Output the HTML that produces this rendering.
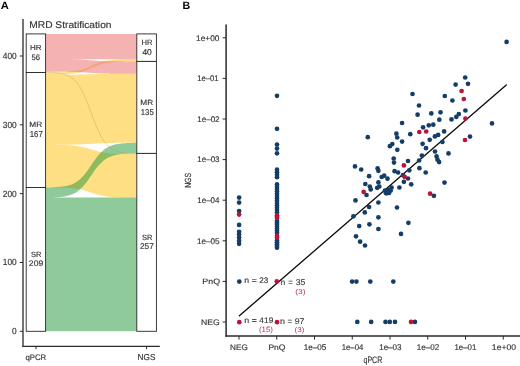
<!DOCTYPE html>
<html><head><meta charset="utf-8"><style>
html,body{margin:0;padding:0;background:#fff;}
body{width:520px;height:366px;overflow:hidden;}
svg{display:block;will-change:transform;}
text{font-family:"Liberation Sans", sans-serif;font-kerning:none;text-rendering:geometricPrecision;}
</style></head><body>
<svg width="520" height="366" viewBox="0 0 520 366">
<rect width="520" height="366" fill="#fff"/>
<path d="M45.60,74.80 L47.50,74.80 L49.40,74.80 L51.30,74.80 L53.20,74.80 L55.10,74.79 L57.00,74.79 L58.90,74.79 L60.80,74.78 L62.70,74.78 L64.60,74.77 L66.50,74.76 L68.40,74.75 L70.30,74.74 L72.20,74.73 L74.10,74.71 L76.00,74.68 L77.90,74.65 L79.80,74.62 L81.70,74.58 L83.60,74.53 L85.50,74.48 L87.40,74.42 L89.30,74.36 L91.20,74.30 L93.10,74.24 L95.00,74.18 L96.90,74.12 L98.80,74.07 L100.70,74.02 L102.60,73.98 L104.50,73.95 L106.40,73.92 L108.30,73.89 L110.20,73.87 L112.10,73.86 L114.00,73.85 L115.90,73.84 L117.80,73.83 L119.70,73.82 L121.60,73.82 L123.50,73.81 L125.40,73.81 L127.30,73.81 L129.20,73.80 L131.10,73.80 L133.00,73.80 L134.90,73.80 L136.80,73.80 L136.80,142.80 L134.90,142.80 L133.00,142.80 L131.10,142.81 L129.20,142.81 L127.30,142.81 L125.40,142.82 L123.50,142.82 L121.60,142.83 L119.70,142.84 L117.80,142.85 L115.90,142.87 L114.00,142.89 L112.10,142.92 L110.20,142.95 L108.30,142.99 L106.40,143.03 L104.50,143.09 L102.60,143.16 L100.70,143.24 L98.80,143.34 L96.90,143.44 L95.00,143.55 L93.10,143.68 L91.20,143.80 L89.30,143.92 L87.40,144.05 L85.50,144.16 L83.60,144.26 L81.70,144.36 L79.80,144.44 L77.90,144.51 L76.00,144.57 L74.10,144.61 L72.20,144.65 L70.30,144.68 L68.40,144.71 L66.50,144.73 L64.60,144.75 L62.70,144.76 L60.80,144.77 L58.90,144.78 L57.00,144.78 L55.10,144.79 L53.20,144.79 L51.30,144.79 L49.40,144.80 L47.50,144.80 L45.60,144.80 Z M45.60,144.80 L47.50,144.81 L49.40,144.81 L51.30,144.83 L53.20,144.84 L55.10,144.86 L57.00,144.88 L58.90,144.91 L60.80,144.94 L62.70,144.99 L64.60,145.05 L66.50,145.13 L68.40,145.22 L70.30,145.34 L72.20,145.49 L74.10,145.67 L76.00,145.89 L77.90,146.16 L79.80,146.48 L81.70,146.86 L83.60,147.29 L85.50,147.78 L87.40,148.31 L89.30,148.87 L91.20,149.45 L93.10,150.03 L95.00,150.59 L96.90,151.12 L98.80,151.61 L100.70,152.04 L102.60,152.42 L104.50,152.74 L106.40,153.01 L108.30,153.23 L110.20,153.41 L112.10,153.56 L114.00,153.68 L115.90,153.77 L117.80,153.85 L119.70,153.91 L121.60,153.96 L123.50,153.99 L125.40,154.02 L127.30,154.04 L129.20,154.06 L131.10,154.07 L133.00,154.09 L134.90,154.09 L136.80,154.10 L136.80,197.60 L134.90,197.59 L133.00,197.58 L131.10,197.57 L129.20,197.56 L127.30,197.54 L125.40,197.51 L123.50,197.48 L121.60,197.44 L119.70,197.39 L117.80,197.33 L115.90,197.25 L114.00,197.14 L112.10,197.02 L110.20,196.86 L108.30,196.66 L106.40,196.42 L104.50,196.12 L102.60,195.77 L100.70,195.36 L98.80,194.90 L96.90,194.37 L95.00,193.79 L93.10,193.18 L91.20,192.55 L89.30,191.92 L87.40,191.31 L85.50,190.73 L83.60,190.20 L81.70,189.74 L79.80,189.33 L77.90,188.98 L76.00,188.68 L74.10,188.44 L72.20,188.24 L70.30,188.08 L68.40,187.96 L66.50,187.85 L64.60,187.77 L62.70,187.71 L60.80,187.66 L58.90,187.62 L57.00,187.59 L55.10,187.56 L53.20,187.54 L51.30,187.53 L49.40,187.52 L47.50,187.51 L45.60,187.50 Z M45.60,72.50 L47.50,72.49 L49.40,72.48 L51.30,72.46 L53.20,72.44 L55.10,72.42 L57.00,72.39 L58.90,72.35 L60.80,72.29 L62.70,72.23 L64.60,72.14 L66.50,72.03 L68.40,71.90 L70.30,71.73 L72.20,71.52 L74.10,71.26 L76.00,70.94 L77.90,70.55 L79.80,70.09 L81.70,69.56 L83.60,68.94 L85.50,68.24 L87.40,67.49 L89.30,66.68 L91.20,65.85 L93.10,65.02 L95.00,64.21 L96.90,63.46 L98.80,62.76 L100.70,62.14 L102.60,61.61 L104.50,61.15 L106.40,60.76 L108.30,60.44 L110.20,60.18 L112.10,59.97 L114.00,59.80 L115.90,59.67 L117.80,59.56 L119.70,59.47 L121.60,59.41 L123.50,59.35 L125.40,59.31 L127.30,59.28 L129.20,59.26 L131.10,59.24 L133.00,59.22 L134.90,59.21 L136.80,59.20 L136.80,61.40 L134.90,61.41 L133.00,61.42 L131.10,61.44 L129.20,61.46 L127.30,61.48 L125.40,61.51 L123.50,61.56 L121.60,61.61 L119.70,61.68 L117.80,61.76 L115.90,61.87 L114.00,62.01 L112.10,62.18 L110.20,62.39 L108.30,62.65 L106.40,62.97 L104.50,63.36 L102.60,63.82 L100.70,64.37 L98.80,64.99 L96.90,65.69 L95.00,66.45 L93.10,67.26 L91.20,68.10 L89.30,68.94 L87.40,69.75 L85.50,70.51 L83.60,71.21 L81.70,71.83 L79.80,72.38 L77.90,72.84 L76.00,73.23 L74.10,73.55 L72.20,73.81 L70.30,74.02 L68.40,74.19 L66.50,74.33 L64.60,74.44 L62.70,74.52 L60.80,74.59 L58.90,74.64 L57.00,74.69 L55.10,74.72 L53.20,74.74 L51.30,74.76 L49.40,74.78 L47.50,74.79 L45.60,74.80 Z" fill="rgb(253,191,9)" fill-opacity="0.5"/>
<path d="M45.60,33.90 L47.50,33.90 L49.40,33.90 L51.30,33.90 L53.20,33.90 L55.10,33.90 L57.00,33.90 L58.90,33.90 L60.80,33.90 L62.70,33.90 L64.60,33.90 L66.50,33.90 L68.40,33.90 L70.30,33.90 L72.20,33.90 L74.10,33.90 L76.00,33.90 L77.90,33.90 L79.80,33.90 L81.70,33.90 L83.60,33.90 L85.50,33.90 L87.40,33.90 L89.30,33.90 L91.20,33.90 L93.10,33.90 L95.00,33.90 L96.90,33.90 L98.80,33.90 L100.70,33.90 L102.60,33.90 L104.50,33.90 L106.40,33.90 L108.30,33.90 L110.20,33.90 L112.10,33.90 L114.00,33.90 L115.90,33.90 L117.80,33.90 L119.70,33.90 L121.60,33.90 L123.50,33.90 L125.40,33.90 L127.30,33.90 L129.20,33.90 L131.10,33.90 L133.00,33.90 L134.90,33.90 L136.80,33.90 L136.80,59.20 L134.90,59.20 L133.00,59.20 L131.10,59.20 L129.20,59.20 L127.30,59.20 L125.40,59.20 L123.50,59.20 L121.60,59.20 L119.70,59.20 L117.80,59.20 L115.90,59.20 L114.00,59.20 L112.10,59.20 L110.20,59.20 L108.30,59.20 L106.40,59.20 L104.50,59.20 L102.60,59.20 L100.70,59.20 L98.80,59.20 L96.90,59.20 L95.00,59.20 L93.10,59.20 L91.20,59.20 L89.30,59.20 L87.40,59.20 L85.50,59.20 L83.60,59.20 L81.70,59.20 L79.80,59.20 L77.90,59.20 L76.00,59.20 L74.10,59.20 L72.20,59.20 L70.30,59.20 L68.40,59.20 L66.50,59.20 L64.60,59.20 L62.70,59.20 L60.80,59.20 L58.90,59.20 L57.00,59.20 L55.10,59.20 L53.20,59.20 L51.30,59.20 L49.40,59.20 L47.50,59.20 L45.60,59.20 Z M45.60,59.20 L47.50,59.20 L49.40,59.20 L51.30,59.21 L53.20,59.21 L55.10,59.21 L57.00,59.22 L58.90,59.23 L60.80,59.23 L62.70,59.25 L64.60,59.26 L66.50,59.28 L68.40,59.30 L70.30,59.33 L72.20,59.36 L74.10,59.41 L76.00,59.46 L77.90,59.52 L79.80,59.60 L81.70,59.69 L83.60,59.79 L85.50,59.90 L87.40,60.03 L89.30,60.16 L91.20,60.30 L93.10,60.44 L95.00,60.57 L96.90,60.70 L98.80,60.81 L100.70,60.91 L102.60,61.00 L104.50,61.08 L106.40,61.14 L108.30,61.19 L110.20,61.24 L112.10,61.27 L114.00,61.30 L115.90,61.32 L117.80,61.34 L119.70,61.35 L121.60,61.37 L123.50,61.37 L125.40,61.38 L127.30,61.39 L129.20,61.39 L131.10,61.39 L133.00,61.40 L134.90,61.40 L136.80,61.40 L136.80,73.80 L134.90,73.80 L133.00,73.80 L131.10,73.79 L129.20,73.79 L127.30,73.79 L125.40,73.78 L123.50,73.78 L121.60,73.77 L119.70,73.76 L117.80,73.75 L115.90,73.73 L114.00,73.71 L112.10,73.68 L110.20,73.65 L108.30,73.61 L106.40,73.57 L104.50,73.51 L102.60,73.44 L100.70,73.36 L98.80,73.26 L96.90,73.16 L95.00,73.05 L93.10,72.92 L91.20,72.80 L89.30,72.68 L87.40,72.55 L85.50,72.44 L83.60,72.34 L81.70,72.24 L79.80,72.16 L77.90,72.09 L76.00,72.03 L74.10,71.99 L72.20,71.95 L70.30,71.92 L68.40,71.89 L66.50,71.87 L64.60,71.85 L62.70,71.84 L60.80,71.83 L58.90,71.82 L57.00,71.82 L55.10,71.81 L53.20,71.81 L51.30,71.81 L49.40,71.80 L47.50,71.80 L45.60,71.80 Z" fill="rgb(235,101,101)" fill-opacity="0.5"/>
<path d="M45.60,197.60 L47.50,197.60 L49.40,197.60 L51.30,197.60 L53.20,197.60 L55.10,197.60 L57.00,197.60 L58.90,197.60 L60.80,197.60 L62.70,197.60 L64.60,197.60 L66.50,197.60 L68.40,197.60 L70.30,197.60 L72.20,197.60 L74.10,197.60 L76.00,197.60 L77.90,197.60 L79.80,197.60 L81.70,197.60 L83.60,197.60 L85.50,197.60 L87.40,197.60 L89.30,197.60 L91.20,197.60 L93.10,197.60 L95.00,197.60 L96.90,197.60 L98.80,197.60 L100.70,197.60 L102.60,197.60 L104.50,197.60 L106.40,197.60 L108.30,197.60 L110.20,197.60 L112.10,197.60 L114.00,197.60 L115.90,197.60 L117.80,197.60 L119.70,197.60 L121.60,197.60 L123.50,197.60 L125.40,197.60 L127.30,197.60 L129.20,197.60 L131.10,197.60 L133.00,197.60 L134.90,197.60 L136.80,197.60 L136.80,331.30 L134.90,331.30 L133.00,331.30 L131.10,331.30 L129.20,331.30 L127.30,331.30 L125.40,331.30 L123.50,331.30 L121.60,331.30 L119.70,331.30 L117.80,331.30 L115.90,331.30 L114.00,331.30 L112.10,331.30 L110.20,331.30 L108.30,331.30 L106.40,331.30 L104.50,331.30 L102.60,331.30 L100.70,331.30 L98.80,331.30 L96.90,331.30 L95.00,331.30 L93.10,331.30 L91.20,331.30 L89.30,331.30 L87.40,331.30 L85.50,331.30 L83.60,331.30 L81.70,331.30 L79.80,331.30 L77.90,331.30 L76.00,331.30 L74.10,331.30 L72.20,331.30 L70.30,331.30 L68.40,331.30 L66.50,331.30 L64.60,331.30 L62.70,331.30 L60.80,331.30 L58.90,331.30 L57.00,331.30 L55.10,331.30 L53.20,331.30 L51.30,331.30 L49.40,331.30 L47.50,331.30 L45.60,331.30 Z M45.60,187.50 L47.50,187.47 L49.40,187.43 L51.30,187.38 L53.20,187.31 L55.10,187.23 L57.00,187.12 L58.90,186.98 L60.80,186.80 L62.70,186.58 L64.60,186.29 L66.50,185.93 L68.40,185.48 L70.30,184.91 L72.20,184.20 L74.10,183.33 L76.00,182.26 L77.90,180.96 L79.80,179.42 L81.70,177.61 L83.60,175.53 L85.50,173.20 L87.40,170.65 L89.30,167.94 L91.20,165.15 L93.10,162.36 L95.00,159.65 L96.90,157.10 L98.80,154.77 L100.70,152.69 L102.60,150.88 L104.50,149.34 L106.40,148.04 L108.30,146.97 L110.20,146.10 L112.10,145.39 L114.00,144.82 L115.90,144.37 L117.80,144.01 L119.70,143.72 L121.60,143.50 L123.50,143.32 L125.40,143.18 L127.30,143.07 L129.20,142.99 L131.10,142.92 L133.00,142.87 L134.90,142.83 L136.80,142.80 L136.80,153.40 L134.90,153.43 L133.00,153.47 L131.10,153.52 L129.20,153.59 L127.30,153.67 L125.40,153.78 L123.50,153.91 L121.60,154.09 L119.70,154.31 L117.80,154.59 L115.90,154.95 L114.00,155.40 L112.10,155.96 L110.20,156.66 L108.30,157.53 L106.40,158.59 L104.50,159.87 L102.60,161.39 L100.70,163.18 L98.80,165.24 L96.90,167.54 L95.00,170.06 L93.10,172.74 L91.20,175.50 L89.30,178.26 L87.40,180.94 L85.50,183.46 L83.60,185.76 L81.70,187.82 L79.80,189.61 L77.90,191.13 L76.00,192.41 L74.10,193.47 L72.20,194.34 L70.30,195.04 L68.40,195.60 L66.50,196.05 L64.60,196.41 L62.70,196.69 L60.80,196.91 L58.90,197.09 L57.00,197.22 L55.10,197.33 L53.20,197.41 L51.30,197.48 L49.40,197.53 L47.50,197.57 L45.60,197.60 Z" fill="rgb(31,149,55)" fill-opacity="0.5"/>
<path d="M45.60,72.15 L47.50,72.21 L49.40,72.28 L51.30,72.38 L53.20,72.50 L55.10,72.65 L57.00,72.85 L58.90,73.10 L60.80,73.42 L62.70,73.83 L64.60,74.35 L66.50,75.01 L68.40,75.84 L70.30,76.87 L72.20,78.17 L74.10,79.77 L76.00,81.72 L77.90,84.09 L79.80,86.91 L81.70,90.21 L83.60,94.00 L85.50,98.26 L87.40,102.91 L89.30,107.85 L91.20,112.95 L93.10,118.05 L95.00,122.99 L96.90,127.64 L98.80,131.90 L100.70,135.69 L102.60,138.99 L104.50,141.81 L106.40,144.18 L108.30,146.13 L110.20,147.73 L112.10,149.03 L114.00,150.06 L115.90,150.89 L117.80,151.55 L119.70,152.07 L121.60,152.48 L123.50,152.80 L125.40,153.05 L127.30,153.25 L129.20,153.40 L131.10,153.52 L133.00,153.62 L134.90,153.69 L136.80,153.75" fill="none" stroke="rgb(190,160,60)" stroke-width="0.7" stroke-opacity="0.6"/>
<rect x="26.2" y="33.90" width="19.40" height="38.60" fill="#fff" stroke="#262626" stroke-width="0.9"/>
<rect x="26.2" y="72.50" width="19.40" height="115.00" fill="#fff" stroke="#262626" stroke-width="0.9"/>
<rect x="26.2" y="187.50" width="19.40" height="143.80" fill="#fff" stroke="#262626" stroke-width="0.9"/>
<rect x="136.8" y="33.90" width="19.60" height="27.50" fill="#fff" stroke="#262626" stroke-width="0.9"/>
<rect x="136.8" y="61.40" width="19.60" height="92.00" fill="#fff" stroke="#262626" stroke-width="0.9"/>
<rect x="136.8" y="153.40" width="19.60" height="177.90" fill="#fff" stroke="#262626" stroke-width="0.9"/>
<line x1="23" y1="19" x2="23" y2="346.9" stroke="#2a2a2a" stroke-width="1.3"/>
<line x1="22.35" y1="346.3" x2="159.8" y2="346.3" stroke="#2a2a2a" stroke-width="1.3"/>
<line x1="19.8" y1="56.00" x2="23" y2="56.00" stroke="#2a2a2a" stroke-width="1"/>
<line x1="19.8" y1="124.80" x2="23" y2="124.80" stroke="#2a2a2a" stroke-width="1"/>
<line x1="19.8" y1="193.60" x2="23" y2="193.60" stroke="#2a2a2a" stroke-width="1"/>
<line x1="19.8" y1="262.50" x2="23" y2="262.50" stroke="#2a2a2a" stroke-width="1"/>
<line x1="19.8" y1="331.30" x2="23" y2="331.30" stroke="#2a2a2a" stroke-width="1"/>
<text transform="translate(2.81,58.90) scale(0.9245,1)" font-size="9.023" fill="#333" stroke="#333" stroke-width="0.15">400</text>
<text transform="translate(2.81,127.70) scale(0.9245,1)" font-size="9.023" fill="#333" stroke="#333" stroke-width="0.15">300</text>
<text transform="translate(2.81,196.50) scale(0.9245,1)" font-size="9.023" fill="#333" stroke="#333" stroke-width="0.15">200</text>
<text transform="translate(2.81,265.40) scale(0.9245,1)" font-size="9.023" fill="#333" stroke="#333" stroke-width="0.15">100</text>
<text transform="translate(12.09,334.20) scale(0.9245,1)" font-size="9.023" fill="#333" stroke="#333" stroke-width="0.15">0</text>
<line x1="36.0" y1="346.3" x2="36.0" y2="349.2" stroke="#2a2a2a" stroke-width="1"/>
<line x1="146.6" y1="346.3" x2="146.6" y2="349.2" stroke="#2a2a2a" stroke-width="1"/>
<text transform="translate(25.42,359.80) scale(0.9773,1)" font-size="7.994" fill="#333" stroke="#333" stroke-width="0.15" >qPCR</text>
<text transform="translate(137.58,359.75) scale(0.9560,1)" font-size="8.593" fill="#333" stroke="#333" stroke-width="0.15" >NGS</text>
<text transform="translate(29.26,28.30) scale(1.0501,1)" font-size="9.738" fill="#333" stroke="#333" stroke-width="0.15" >MRD Stratification</text>
<text transform="translate(0.82,9.40) scale(1.0682,1)" font-size="10.465" fill="#000" font-weight="bold" >A</text>
<text transform="translate(29.95,49.90) scale(1.0979,1)" font-size="7.268" fill="#333" stroke="#333" stroke-width="0.15" >HR</text>
<text transform="translate(31.59,60.40) scale(0.9579,1)" font-size="8.020" fill="#333" stroke="#333" stroke-width="0.15" >56</text>
<text transform="translate(29.32,127.20) scale(1.0736,1)" font-size="7.704" fill="#333" stroke="#333" stroke-width="0.15" >MR</text>
<text transform="translate(29.70,137.10) scale(0.9132,1)" font-size="8.593" fill="#333" stroke="#333" stroke-width="0.15" >167</text>
<text transform="translate(30.96,257.20) scale(0.9952,1)" font-size="7.590" fill="#333" stroke="#333" stroke-width="0.15" >SR</text>
<text transform="translate(28.87,266.40) scale(1.0716,1)" font-size="8.020" fill="#333" stroke="#333" stroke-width="0.15" >209</text>
<text transform="translate(141.48,44.90) scale(0.9865,1)" font-size="7.704" fill="#333" stroke="#333" stroke-width="0.15" >HR</text>
<text transform="translate(142.41,54.70) scale(1.0028,1)" font-size="8.450" fill="#333" stroke="#333" stroke-width="0.15" >40</text>
<text transform="translate(140.32,104.50) scale(1.0942,1)" font-size="7.558" fill="#333" stroke="#333" stroke-width="0.15" >MR</text>
<text transform="translate(140.71,114.70) scale(0.9237,1)" font-size="8.450" fill="#333" stroke="#333" stroke-width="0.15" >135</text>
<text transform="translate(141.96,239.90) scale(0.9952,1)" font-size="7.590" fill="#333" stroke="#333" stroke-width="0.15" >SR</text>
<text transform="translate(139.88,249.40) scale(0.9888,1)" font-size="8.450" fill="#333" stroke="#333" stroke-width="0.15" >257</text>
<text transform="translate(182.59,9.40) scale(1.0045,1)" font-size="10.611" fill="#000" font-weight="bold" >B</text>
<line x1="226.1" y1="24.6" x2="226.1" y2="336.7" stroke="#2a2a2a" stroke-width="1.5"/>
<line x1="225.35" y1="336" x2="520" y2="336" stroke="#2a2a2a" stroke-width="1.5"/>
<line x1="222.6" y1="37.80" x2="226" y2="37.80" stroke="#2a2a2a" stroke-width="1"/>
<text transform="translate(196.07,40.65) scale(1.0184,1)" font-size="8.166" fill="#333" stroke="#333" stroke-width="0.15" >1e+00</text>
<line x1="222.6" y1="78.40" x2="226" y2="78.40" stroke="#2a2a2a" stroke-width="1"/>
<text transform="translate(197.21,81.25) scale(0.9406,1)" font-size="8.166" fill="#333" stroke="#333" stroke-width="0.15" >1e–01</text>
<line x1="222.6" y1="119.00" x2="226" y2="119.00" stroke="#2a2a2a" stroke-width="1"/>
<text transform="translate(197.29,121.85) scale(0.9827,1)" font-size="8.166" fill="#333" stroke="#333" stroke-width="0.15" >1e–02</text>
<line x1="222.6" y1="159.60" x2="226" y2="159.60" stroke="#2a2a2a" stroke-width="1"/>
<text transform="translate(197.29,162.45) scale(0.9803,1)" font-size="8.166" fill="#333" stroke="#333" stroke-width="0.15" >1e–03</text>
<line x1="222.6" y1="200.20" x2="226" y2="200.20" stroke="#2a2a2a" stroke-width="1"/>
<text transform="translate(197.29,203.05) scale(0.9750,1)" font-size="8.166" fill="#333" stroke="#333" stroke-width="0.15" >1e–04</text>
<line x1="222.6" y1="240.80" x2="226" y2="240.80" stroke="#2a2a2a" stroke-width="1"/>
<text transform="translate(196.98,243.65) scale(0.9934,1)" font-size="8.166" fill="#333" stroke="#333" stroke-width="0.15" >1e–05</text>
<line x1="222.6" y1="281.40" x2="226" y2="281.40" stroke="#2a2a2a" stroke-width="1"/>
<text transform="translate(202.37,284.20) scale(1.1517,1)" font-size="7.703" fill="#333" stroke="#333" stroke-width="0.15" >PnQ</text>
<line x1="222.6" y1="322.00" x2="226" y2="322.00" stroke="#2a2a2a" stroke-width="1"/>
<text transform="translate(201.09,324.80) scale(1.0792,1)" font-size="8.020" fill="#333" stroke="#333" stroke-width="0.15" >NEG</text>
<line x1="239.00" y1="336" x2="239.00" y2="339.6" stroke="#2a2a2a" stroke-width="1"/>
<text transform="translate(230.03,349.70) scale(1.0267,1)" font-size="7.994" fill="#333" stroke="#333" stroke-width="0.15" >NEG</text>
<line x1="276.75" y1="336" x2="276.75" y2="339.6" stroke="#2a2a2a" stroke-width="1"/>
<text transform="translate(268.40,349.70) scale(1.0697,1)" font-size="7.994" fill="#333" stroke="#333" stroke-width="0.15" >PnQ</text>
<line x1="314.50" y1="336" x2="314.50" y2="339.6" stroke="#2a2a2a" stroke-width="1"/>
<text transform="translate(303.68,349.80) scale(0.9808,1)" font-size="8.309" fill="#333" stroke="#333" stroke-width="0.15" >1e–05</text>
<line x1="352.25" y1="336" x2="352.25" y2="339.6" stroke="#2a2a2a" stroke-width="1"/>
<text transform="translate(341.71,349.80) scale(0.9357,1)" font-size="8.309" fill="#333" stroke="#333" stroke-width="0.15" >1e–04</text>
<line x1="390.00" y1="336" x2="390.00" y2="339.6" stroke="#2a2a2a" stroke-width="1"/>
<text transform="translate(379.19,349.80) scale(0.9680,1)" font-size="8.309" fill="#333" stroke="#333" stroke-width="0.15" >1e–03</text>
<line x1="427.75" y1="336" x2="427.75" y2="339.6" stroke="#2a2a2a" stroke-width="1"/>
<text transform="translate(416.78,349.80) scale(0.9748,1)" font-size="8.309" fill="#333" stroke="#333" stroke-width="0.15" >1e–02</text>
<line x1="465.50" y1="336" x2="465.50" y2="339.6" stroke="#2a2a2a" stroke-width="1"/>
<text transform="translate(454.50,349.80) scale(0.9471,1)" font-size="8.309" fill="#333" stroke="#333" stroke-width="0.15" >1e–01</text>
<line x1="503.25" y1="336" x2="503.25" y2="339.6" stroke="#2a2a2a" stroke-width="1"/>
<text transform="translate(491.84,349.80) scale(1.0411,1)" font-size="8.309" fill="#333" stroke="#333" stroke-width="0.15" >1e+00</text>
<text transform="translate(363.51,363.00) scale(0.7544,1)" font-size="9.302" fill="#333" stroke="#333" stroke-width="0.15" >qPCR</text>
<text transform="translate(190.50,187.87) rotate(-90) scale(0.7788,1)" font-size="8.879" fill="#333" stroke="#333" stroke-width="0.15">NGS</text>
<line x1="239.4" y1="315.7" x2="506.3" y2="84.9" stroke="#0a0a0a" stroke-width="1.3" stroke-linecap="round"/>
<circle cx="506.6" cy="41.9" r="2.35" fill="#143e68"/>
<circle cx="465.2" cy="77.5" r="2.35" fill="#143e68"/>
<circle cx="455.6" cy="84.6" r="2.35" fill="#143e68"/>
<circle cx="468.0" cy="83.8" r="2.35" fill="#143e68"/>
<circle cx="444.8" cy="96.0" r="2.35" fill="#143e68"/>
<circle cx="452.4" cy="100.5" r="2.35" fill="#143e68"/>
<circle cx="412.5" cy="94.0" r="2.35" fill="#143e68"/>
<circle cx="419.0" cy="105.5" r="2.35" fill="#143e68"/>
<circle cx="417.6" cy="114.7" r="2.35" fill="#143e68"/>
<circle cx="431.3" cy="113.4" r="2.35" fill="#143e68"/>
<circle cx="440.5" cy="112.3" r="2.35" fill="#143e68"/>
<circle cx="402.1" cy="123.0" r="2.35" fill="#143e68"/>
<circle cx="439.3" cy="119.7" r="2.35" fill="#143e68"/>
<circle cx="423.1" cy="127.3" r="2.35" fill="#143e68"/>
<circle cx="428.8" cy="125.3" r="2.35" fill="#143e68"/>
<circle cx="433.3" cy="124.7" r="2.35" fill="#143e68"/>
<circle cx="396.4" cy="133.7" r="2.35" fill="#143e68"/>
<circle cx="397.2" cy="137.5" r="2.35" fill="#143e68"/>
<circle cx="410.3" cy="134.2" r="2.35" fill="#143e68"/>
<circle cx="402.1" cy="141.6" r="2.35" fill="#143e68"/>
<circle cx="429.7" cy="139.8" r="2.35" fill="#143e68"/>
<circle cx="434.9" cy="136.4" r="2.35" fill="#143e68"/>
<circle cx="438.2" cy="134.9" r="2.35" fill="#143e68"/>
<circle cx="392.3" cy="144.0" r="2.35" fill="#143e68"/>
<circle cx="422.6" cy="143.8" r="2.35" fill="#143e68"/>
<circle cx="465.4" cy="110.5" r="2.35" fill="#143e68"/>
<circle cx="458.8" cy="114.1" r="2.35" fill="#143e68"/>
<circle cx="456.3" cy="116.9" r="2.35" fill="#143e68"/>
<circle cx="451.5" cy="119.4" r="2.35" fill="#143e68"/>
<circle cx="492.0" cy="123.4" r="2.35" fill="#143e68"/>
<circle cx="444.1" cy="131.4" r="2.35" fill="#143e68"/>
<circle cx="470.0" cy="136.6" r="2.35" fill="#143e68"/>
<circle cx="442.4" cy="142.0" r="2.35" fill="#143e68"/>
<circle cx="367.8" cy="137.2" r="2.35" fill="#143e68"/>
<circle cx="389.9" cy="146.2" r="2.35" fill="#143e68"/>
<circle cx="355.0" cy="166.4" r="2.35" fill="#143e68"/>
<circle cx="361.2" cy="169.5" r="2.35" fill="#143e68"/>
<circle cx="369.1" cy="176.2" r="2.35" fill="#143e68"/>
<circle cx="377.6" cy="168.4" r="2.35" fill="#143e68"/>
<circle cx="378.4" cy="170.8" r="2.35" fill="#143e68"/>
<circle cx="381.7" cy="177.0" r="2.35" fill="#143e68"/>
<circle cx="384.2" cy="175.7" r="2.35" fill="#143e68"/>
<circle cx="387.5" cy="178.7" r="2.35" fill="#143e68"/>
<circle cx="393.7" cy="158.5" r="2.35" fill="#143e68"/>
<circle cx="394.0" cy="162.6" r="2.35" fill="#143e68"/>
<circle cx="394.6" cy="171.2" r="2.35" fill="#143e68"/>
<circle cx="397.3" cy="149.8" r="2.35" fill="#143e68"/>
<circle cx="426.0" cy="148.2" r="2.35" fill="#143e68"/>
<circle cx="435.0" cy="151.5" r="2.35" fill="#143e68"/>
<circle cx="436.6" cy="156.4" r="2.35" fill="#143e68"/>
<circle cx="437.5" cy="159.7" r="2.35" fill="#143e68"/>
<circle cx="439.1" cy="162.1" r="2.35" fill="#143e68"/>
<circle cx="421.9" cy="155.6" r="2.35" fill="#143e68"/>
<circle cx="419.1" cy="160.5" r="2.35" fill="#143e68"/>
<circle cx="408.0" cy="161.0" r="2.35" fill="#143e68"/>
<circle cx="409.3" cy="170.3" r="2.35" fill="#143e68"/>
<circle cx="419.4" cy="168.2" r="2.35" fill="#143e68"/>
<circle cx="425.7" cy="172.5" r="2.35" fill="#143e68"/>
<circle cx="398.1" cy="172.5" r="2.35" fill="#143e68"/>
<circle cx="403.0" cy="175.2" r="2.35" fill="#143e68"/>
<circle cx="408.0" cy="178.5" r="2.35" fill="#143e68"/>
<circle cx="403.9" cy="181.8" r="2.35" fill="#143e68"/>
<circle cx="411.2" cy="184.3" r="2.35" fill="#143e68"/>
<circle cx="399.4" cy="187.5" r="2.35" fill="#143e68"/>
<circle cx="391.6" cy="187.5" r="2.35" fill="#143e68"/>
<circle cx="388.3" cy="190.0" r="2.35" fill="#143e68"/>
<circle cx="386.6" cy="193.3" r="2.35" fill="#143e68"/>
<circle cx="433.9" cy="195.8" r="2.35" fill="#143e68"/>
<circle cx="444.5" cy="182.6" r="2.35" fill="#143e68"/>
<circle cx="448.5" cy="153.4" r="2.35" fill="#143e68"/>
<circle cx="365.3" cy="184.0" r="2.35" fill="#143e68"/>
<circle cx="369.8" cy="186.5" r="2.35" fill="#143e68"/>
<circle cx="370.7" cy="189.4" r="2.35" fill="#143e68"/>
<circle cx="378.4" cy="182.4" r="2.35" fill="#143e68"/>
<circle cx="379.3" cy="186.5" r="2.35" fill="#143e68"/>
<circle cx="377.2" cy="187.8" r="2.35" fill="#143e68"/>
<circle cx="366.5" cy="195.0" r="2.35" fill="#143e68"/>
<circle cx="385.0" cy="190.6" r="2.35" fill="#143e68"/>
<circle cx="385.8" cy="193.0" r="2.35" fill="#143e68"/>
<circle cx="389.1" cy="193.0" r="2.35" fill="#143e68"/>
<circle cx="390.7" cy="190.6" r="2.35" fill="#143e68"/>
<circle cx="355.5" cy="200.4" r="2.35" fill="#143e68"/>
<circle cx="378.4" cy="202.5" r="2.35" fill="#143e68"/>
<circle cx="369.1" cy="207.0" r="2.35" fill="#143e68"/>
<circle cx="364.8" cy="212.4" r="2.35" fill="#143e68"/>
<circle cx="353.4" cy="216.3" r="2.35" fill="#143e68"/>
<circle cx="378.4" cy="217.3" r="2.35" fill="#143e68"/>
<circle cx="359.2" cy="226.1" r="2.35" fill="#143e68"/>
<circle cx="369.4" cy="224.3" r="2.35" fill="#143e68"/>
<circle cx="378.4" cy="229.0" r="2.35" fill="#143e68"/>
<circle cx="356.0" cy="236.3" r="2.35" fill="#143e68"/>
<circle cx="360.1" cy="241.7" r="2.35" fill="#143e68"/>
<circle cx="365.0" cy="245.5" r="2.35" fill="#143e68"/>
<circle cx="397.0" cy="207.5" r="2.35" fill="#143e68"/>
<circle cx="408.4" cy="222.8" r="2.35" fill="#143e68"/>
<circle cx="401.0" cy="233.9" r="2.35" fill="#143e68"/>
<circle cx="239.3" cy="281.6" r="2.35" fill="#143e68"/>
<circle cx="352.1" cy="281.6" r="2.35" fill="#143e68"/>
<circle cx="356.4" cy="281.6" r="2.35" fill="#143e68"/>
<circle cx="370.3" cy="281.6" r="2.35" fill="#143e68"/>
<circle cx="393.3" cy="281.6" r="2.35" fill="#143e68"/>
<circle cx="357.3" cy="321.9" r="2.35" fill="#143e68"/>
<circle cx="371.2" cy="321.9" r="2.35" fill="#143e68"/>
<circle cx="385.5" cy="321.9" r="2.35" fill="#143e68"/>
<circle cx="389.8" cy="321.9" r="2.35" fill="#143e68"/>
<circle cx="395.0" cy="321.9" r="2.35" fill="#143e68"/>
<circle cx="414.9" cy="321.9" r="2.35" fill="#143e68"/>
<circle cx="239.1" cy="197.6" r="2.35" fill="#143e68"/>
<circle cx="239.1" cy="202.6" r="2.35" fill="#143e68"/>
<circle cx="239.1" cy="211.0" r="2.35" fill="#143e68"/>
<circle cx="239.1" cy="224.9" r="2.35" fill="#143e68"/>
<circle cx="239.1" cy="231.8" r="2.35" fill="#143e68"/>
<circle cx="239.1" cy="234.6" r="2.35" fill="#143e68"/>
<circle cx="239.1" cy="237.5" r="2.35" fill="#143e68"/>
<circle cx="239.1" cy="240.8" r="2.35" fill="#143e68"/>
<circle cx="239.1" cy="243.8" r="2.35" fill="#143e68"/>
<circle cx="277.0" cy="95.8" r="2.35" fill="#143e68"/>
<circle cx="277.0" cy="128.8" r="2.35" fill="#143e68"/>
<circle cx="277.0" cy="144.6" r="2.35" fill="#143e68"/>
<circle cx="277.0" cy="148.6" r="2.35" fill="#143e68"/>
<circle cx="277.0" cy="153.3" r="2.35" fill="#143e68"/>
<circle cx="277.0" cy="169.65" r="2.35" fill="#143e68"/>
<circle cx="277.0" cy="172.18333333333334" r="2.35" fill="#143e68"/>
<circle cx="277.0" cy="174.71666666666667" r="2.35" fill="#143e68"/>
<circle cx="277.0" cy="177.25" r="2.35" fill="#143e68"/>
<circle cx="277.0" cy="184.45" r="2.35" fill="#143e68"/>
<circle cx="277.0" cy="186.78333333333333" r="2.35" fill="#143e68"/>
<circle cx="277.0" cy="189.11666666666665" r="2.35" fill="#143e68"/>
<circle cx="277.0" cy="191.45" r="2.35" fill="#143e68"/>
<circle cx="277.0" cy="193.78333333333333" r="2.35" fill="#143e68"/>
<circle cx="277.0" cy="196.11666666666667" r="2.35" fill="#143e68"/>
<circle cx="277.0" cy="198.45" r="2.35" fill="#143e68"/>
<circle cx="277.0" cy="200.78333333333333" r="2.35" fill="#143e68"/>
<circle cx="277.0" cy="203.11666666666667" r="2.35" fill="#143e68"/>
<circle cx="277.0" cy="205.45" r="2.35" fill="#143e68"/>
<circle cx="277.0" cy="207.78333333333333" r="2.35" fill="#143e68"/>
<circle cx="277.0" cy="210.11666666666667" r="2.35" fill="#143e68"/>
<circle cx="277.0" cy="212.45000000000002" r="2.35" fill="#143e68"/>
<circle cx="277.0" cy="220.95" r="2.35" fill="#143e68"/>
<circle cx="277.0" cy="222.89999999999998" r="2.35" fill="#143e68"/>
<circle cx="277.0" cy="224.85" r="2.35" fill="#143e68"/>
<circle cx="277.0" cy="226.79999999999998" r="2.35" fill="#143e68"/>
<circle cx="277.0" cy="228.75" r="2.35" fill="#143e68"/>
<circle cx="277.0" cy="230.7" r="2.35" fill="#143e68"/>
<circle cx="277.0" cy="232.65" r="2.35" fill="#143e68"/>
<circle cx="277.0" cy="240.54999999999998" r="2.35" fill="#143e68"/>
<circle cx="277.0" cy="242.35" r="2.35" fill="#143e68"/>
<circle cx="277.0" cy="244.14999999999998" r="2.35" fill="#143e68"/>
<circle cx="277.0" cy="245.95" r="2.35" fill="#143e68"/>
<circle cx="277.0" cy="247.75" r="2.35" fill="#143e68"/>
<circle cx="461.6" cy="91.0" r="2.35" fill="#bf1238"/>
<circle cx="463.8" cy="99.0" r="2.35" fill="#bf1238"/>
<circle cx="419.3" cy="132.0" r="2.35" fill="#bf1238"/>
<circle cx="426.2" cy="131.5" r="2.35" fill="#bf1238"/>
<circle cx="465.4" cy="118.5" r="2.35" fill="#bf1238"/>
<circle cx="465.0" cy="140.0" r="2.35" fill="#bf1238"/>
<circle cx="403.9" cy="165.4" r="2.35" fill="#bf1238"/>
<circle cx="404.7" cy="176.9" r="2.35" fill="#bf1238"/>
<circle cx="430.1" cy="193.7" r="2.35" fill="#bf1238"/>
<circle cx="363.7" cy="191.9" r="2.35" fill="#bf1238"/>
<circle cx="411.0" cy="321.9" r="2.35" fill="#bf1238"/>
<circle cx="276.8" cy="281.4" r="2.35" fill="#bf1238"/>
<circle cx="239.3" cy="322.2" r="2.35" fill="#bf1238"/>
<circle cx="277.0" cy="322.2" r="2.35" fill="#bf1238"/>
<circle cx="239.1" cy="214.6" r="2.35" fill="#bf1238"/>
<circle cx="277.0" cy="215.35" r="2.35" fill="#bf1238"/>
<circle cx="277.0" cy="216.65" r="2.35" fill="#bf1238"/>
<circle cx="277.0" cy="217.95000000000002" r="2.35" fill="#bf1238"/>
<circle cx="277.0" cy="235.75" r="2.35" fill="#bf1238"/>
<circle cx="277.0" cy="237.55" r="2.35" fill="#bf1238"/>
<text transform="translate(244.32,283.40) scale(1.0666,1)" font-size="8.166" fill="#3a3a3a" stroke="#3a3a3a" stroke-width="0.15">n</text>
<text transform="translate(251.68,283.40) scale(1.0586,1)" font-size="8.166" fill="#3a3a3a" stroke="#3a3a3a" stroke-width="0.15">=</text>
<text transform="translate(259.19,283.40) scale(0.9983,1)" font-size="8.166" fill="#3a3a3a" stroke="#3a3a3a" stroke-width="0.15">23</text>
<text transform="translate(280.87,285.40) scale(0.9632,1)" font-size="8.309" fill="#3a3a3a" stroke="#3a3a3a" stroke-width="0.15">n</text>
<text transform="translate(288.13,285.40) scale(0.9165,1)" font-size="8.309" fill="#3a3a3a" stroke="#3a3a3a" stroke-width="0.15">=</text>
<text transform="translate(295.67,285.40) scale(1.0376,1)" font-size="8.309" fill="#3a3a3a" stroke="#3a3a3a" stroke-width="0.15">35</text>
<text transform="translate(244.21,323.40) scale(1.1150,1)" font-size="8.023" fill="#3a3a3a" stroke="#3a3a3a" stroke-width="0.15">n</text>
<text transform="translate(251.68,323.40) scale(1.0775,1)" font-size="8.023" fill="#3a3a3a" stroke="#3a3a3a" stroke-width="0.15">=</text>
<text transform="translate(259.31,323.40) scale(1.0451,1)" font-size="8.023" fill="#3a3a3a" stroke="#3a3a3a" stroke-width="0.15">419</text>
<text transform="translate(279.91,323.60) scale(1.0765,1)" font-size="8.309" fill="#3a3a3a" stroke="#3a3a3a" stroke-width="0.15">n</text>
<text transform="translate(287.42,323.60) scale(0.9413,1)" font-size="8.309" fill="#3a3a3a" stroke="#3a3a3a" stroke-width="0.15">=</text>
<text transform="translate(294.69,323.60) scale(1.0432,1)" font-size="8.309" fill="#3a3a3a" stroke="#3a3a3a" stroke-width="0.15">97</text>
<text transform="translate(295.27,294.06) scale(1.2339,1)" font-size="6.937" fill="#b8405a" stroke="#b8405a" stroke-width="0.05" >(3)</text>
<text transform="translate(258.91,332.45) scale(1.0600,1)" font-size="7.471" fill="#b8405a" stroke="#b8405a" stroke-width="0.05" >(15)</text>
<text transform="translate(294.60,332.16) scale(1.1552,1)" font-size="6.937" fill="#b8405a" stroke="#b8405a" stroke-width="0.05" >(3)</text>
</svg>
</body></html>
